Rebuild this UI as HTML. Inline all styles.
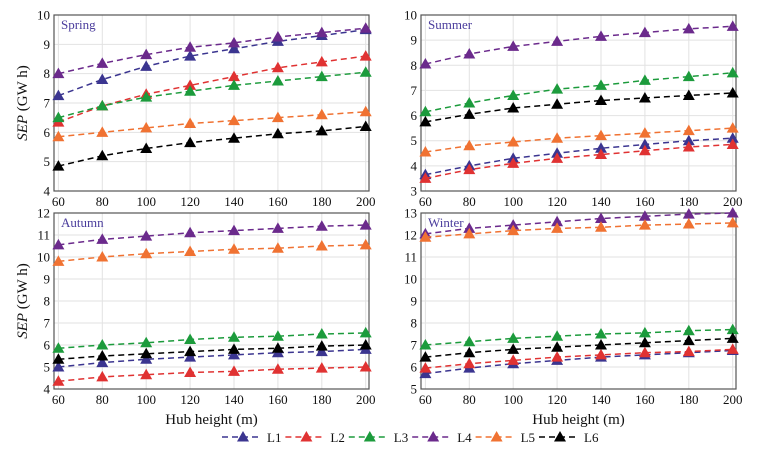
<!DOCTYPE html>
<html><head><meta charset="utf-8"><style>
html,body{margin:0;padding:0;background:#fff;}
svg{display:block;font-family:"Liberation Serif",serif;}
</style></head><body>
<svg id="c" width="761" height="452"></svg>
<script>
const heights=[60,80,100,120,140,160,180,200];
const seriesNames=["L1","L2","L3","L4","L5","L6"];
const seriesColors=["#3b3590","#e03232","#1c9b3c","#6b2a8c","#f07232","#000000"];
const springL1=[7.25,7.8,8.25,8.6,8.85,9.1,9.3,9.5];
const springL2=[6.35,6.9,7.3,7.6,7.9,8.2,8.4,8.6];
const springL3=[6.5,6.9,7.2,7.4,7.6,7.75,7.9,8.05];
const springL4=[8.0,8.35,8.65,8.9,9.05,9.25,9.4,9.55];
const springL5=[5.85,6.0,6.15,6.3,6.4,6.5,6.6,6.7];
const springL6=[4.85,5.2,5.45,5.65,5.8,5.95,6.05,6.2];
const summerL1=[3.65,4.0,4.3,4.5,4.7,4.85,5.0,5.1];
const summerL2=[3.5,3.85,4.1,4.3,4.45,4.6,4.75,4.85];
const summerL3=[6.15,6.5,6.8,7.05,7.2,7.4,7.55,7.7];
const summerL4=[8.05,8.45,8.75,8.95,9.15,9.3,9.45,9.55];
const summerL5=[4.55,4.8,4.95,5.1,5.2,5.3,5.4,5.5];
const summerL6=[5.75,6.05,6.3,6.45,6.6,6.7,6.8,6.9];
const autumnL1=[5.0,5.2,5.35,5.45,5.55,5.65,5.7,5.8];
const autumnL2=[4.35,4.55,4.65,4.75,4.8,4.9,4.95,5.0];
const autumnL3=[5.85,6.0,6.1,6.25,6.35,6.4,6.5,6.55];
const autumnL4=[10.55,10.8,10.95,11.1,11.2,11.3,11.4,11.45];
const autumnL5=[9.8,10.0,10.15,10.25,10.35,10.4,10.5,10.55];
const autumnL6=[5.35,5.5,5.6,5.7,5.8,5.85,5.95,6.0];
const winterL1=[5.7,5.95,6.15,6.3,6.45,6.55,6.65,6.75];
const winterL2=[5.95,6.15,6.3,6.45,6.55,6.65,6.7,6.8];
const winterL3=[7.0,7.15,7.3,7.4,7.5,7.55,7.65,7.7];
const winterL4=[12.05,12.3,12.45,12.6,12.75,12.85,12.95,13.0];
const winterL5=[11.9,12.05,12.2,12.3,12.35,12.45,12.5,12.55];
const winterL6=[6.45,6.65,6.8,6.9,7.0,7.1,7.2,7.3];
const xTicks=[60,80,100,120,140,160,180,200];
const panels=[
 {name:"Spring",x0:54,x1:369,y0:15,y1:191,ymin:4,ymax:10,series:[springL1,springL2,springL3,springL4,springL5,springL6],ylab:true,xlab:false},
 {name:"Summer",x0:421,x1:736,y0:15,y1:191,ymin:3,ymax:10,series:[summerL1,summerL2,summerL3,summerL4,summerL5,summerL6],ylab:false,xlab:false},
 {name:"Autumn",x0:54,x1:369,y0:213,y1:389,ymin:4,ymax:12,series:[autumnL1,autumnL2,autumnL3,autumnL4,autumnL5,autumnL6],ylab:true,xlab:true},
 {name:"Winter",x0:421,x1:736,y0:213,y1:389,ymin:5,ymax:13,series:[winterL1,winterL2,winterL3,winterL4,winterL5,winterL6],ylab:false,xlab:true}
];
const NS="http://www.w3.org/2000/svg";
const svg=document.getElementById('c');
function mk(tag,attrs,parent){const e=document.createElementNS(NS,tag);for(const k in attrs)e.setAttribute(k,attrs[k]);(parent||svg).appendChild(e);return e;}
function tri(cx,cy,col,g){return mk('polygon',{points:`${cx},${cy-6} ${cx-6},${cy+4.5} ${cx+6},${cy+4.5}`,fill:col},g);}
const XMIN=58,XMAX=201.5;
panels.forEach(p=>{
 const g=mk('g',{});
 
 
 const sx=v=>p.x0+(v-XMIN)/(XMAX-XMIN)*(p.x1-p.x0);
 const sy=v=>p.y1-(v-p.ymin)/(p.ymax-p.ymin)*(p.y1-p.y0);
 xTicks.forEach(t=>{
  const l=mk('line',{x1:sx(t),x2:sx(t),y1:p.y0,y2:p.y1,stroke:'#e2e2e2','stroke-width':1},g);
  
  const tx=mk('text',{x:sx(t),y:p.y1+15,'font-size':13,'text-anchor':'middle',fill:'#111'},g);
  
  tx.textContent=t;
 });
 for(let v=p.ymin;v<=p.ymax;v++){
  const l=mk('line',{x1:p.x0,x2:p.x1,y1:sy(v),y2:sy(v),stroke:'#e2e2e2','stroke-width':1},g);
  
  const tx=mk('text',{x:p.x0-4,y:sy(v)+4.5,'font-size':13,'text-anchor':'end',fill:'#111'},g);
  
  tx.textContent=v;
 }
 const fr=mk('rect',{x:p.x0,y:p.y0,width:p.x1-p.x0,height:p.y1-p.y0,fill:'none',stroke:'#555','stroke-width':1.2},g);
 
 p.series.forEach((s,i)=>{
  const pts=s.map((v,j)=>sx(heights[j])+','+sy(v)).join(' ');
  const pl=mk('polyline',{points:pts,fill:'none',stroke:seriesColors[i],'stroke-width':1.5,'stroke-dasharray':'6,4'},g);
  
  s.forEach((v,j)=>{const m=tri(sx(heights[j]),sy(v),seriesColors[i],g);
   });
 });
 const tl=mk('text',{x:p.x0+7,y:p.y0+14,'font-size':13,fill:'#4a3c9c'},g);
 
 tl.textContent=p.name;
 if(p.ylab){
  const cy=(p.y0+p.y1)/2;
  const yl=mk('text',{x:0,y:0,'font-size':15,'text-anchor':'middle',fill:'#111',transform:`translate(27,${cy}) rotate(-90)`},g);
  
  yl.innerHTML='<tspan font-style="italic">SEP</tspan> (GW h)';
 }
 if(p.xlab){
  const xl=mk('text',{x:(p.x0+p.x1)/2,y:p.y1+35,'font-size':15,'text-anchor':'middle',fill:'#111'},g);
  
  xl.textContent='Hub height (m)';
 }
});
const lg=mk('g',{});


seriesNames.forEach((n,i)=>{
 const x=222+i*63.4,y=437;
 const e=mk('g',{},lg);
 
 
 mk('line',{x1:x,x2:x+37,y1:y,y2:y,stroke:seriesColors[i],'stroke-width':1.5,'stroke-dasharray':'6,4'},e);
 tri(x+21,y,seriesColors[i],e);
 const t=mk('text',{x:x+45,y:y+5,'font-size':13,fill:'#111'},e);
 t.textContent=n;
});
</script>
</body></html>
